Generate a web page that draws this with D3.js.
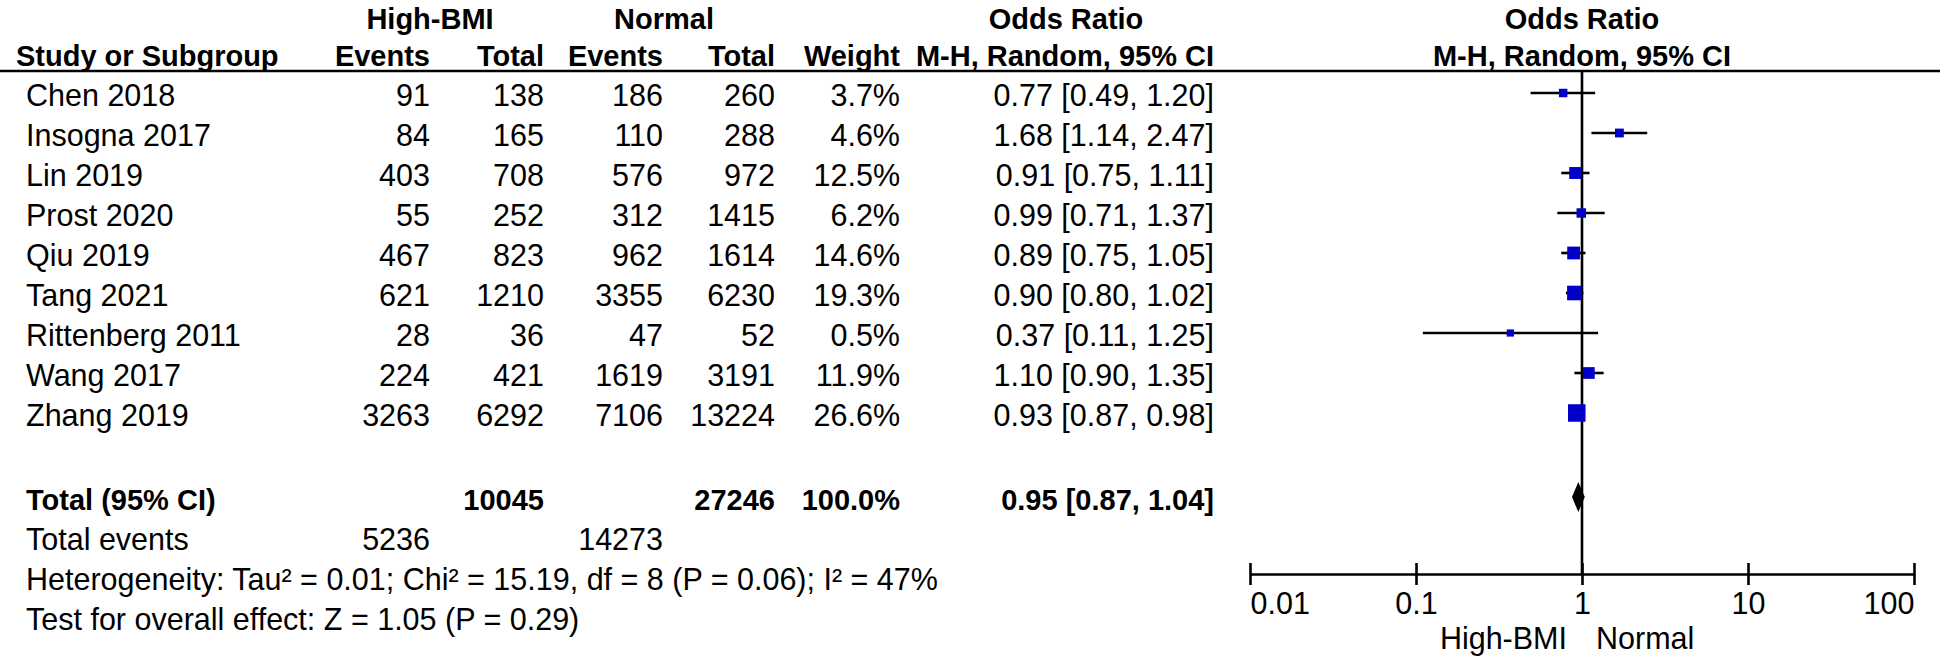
<!DOCTYPE html>
<html>
<head>
<meta charset="utf-8">
<script src="https://cdn.jsdelivr.net/npm/d3@7/dist/d3.min.js"></script>
<style>
  html, body { margin: 0; padding: 0; background: #fff; }
  svg { display: block; }
  text { font-family: "Liberation Sans", Arial, sans-serif; font-size: 30.5px; fill: #000; }
  .b { font-weight: bold; font-size: 29px; }
</style>
</head>
<body>
<svg id="chart" width="1943" height="658"></svg>
<script>
// ---- data ----
const studies   = ["Chen 2018", "Insogna 2017", "Lin 2019", "Prost 2020", "Qiu 2019", "Tang 2021", "Rittenberg 2011", "Wang 2017", "Zhang 2019"];
const hbEvents  = [91, 84, 403, 55, 467, 621, 28, 224, 3263];
const hbTotal   = [138, 165, 708, 252, 823, 1210, 36, 421, 6292];
const nEvents   = [186, 110, 576, 312, 962, 3355, 47, 1619, 7106];
const nTotal    = [260, 288, 972, 1415, 1614, 6230, 52, 3191, 13224];
const weights   = [3.7, 4.6, 12.5, 6.2, 14.6, 19.3, 0.5, 11.9, 26.6];
const orValues  = [0.77, 1.68, 0.91, 0.99, 0.89, 0.90, 0.37, 1.10, 0.93];
const ciLow     = [0.49, 1.14, 0.75, 0.71, 0.75, 0.80, 0.11, 0.90, 0.87];
const ciHigh    = [1.20, 2.47, 1.11, 1.37, 1.05, 1.02, 1.25, 1.35, 0.98];
const pooled    = { or: 0.95, lo: 0.87, hi: 1.04 };
const totalHb   = 10045, totalN = 27246, totalWeight = "100.0%";
const eventsHb  = 5236, eventsN = 14273;
const heterogeneityText = "Heterogeneity: Tau\u00B2 = 0.01; Chi\u00B2 = 15.19, df = 8 (P = 0.06); I\u00B2 = 47%";
const overallText = "Test for overall effect: Z = 1.05 (P = 0.29)";
const tickValues = [0.01, 0.1, 1, 10, 100];
const tickLabels = ["0.01", "0.1", "1", "10", "100"];

// ---- layout ----
const svg = d3.select("#chart");
const rowY = i => 93 + 40 * i;
const base = 13;               // text baseline offset from row centre
const totalY = rowY(10) + 4;
const axisY = 574;
const col = { name: 26, hbE: 430, hbT: 544, nE: 663, nT: 775, w: 900, ci: 1214 };

const x = d3.scaleLog().domain([0.01, 100]).range([1250, 1914]);
const size = d3.scaleLinear().domain([0, 26.6]).range([7, 17.5]);

const fmtCI = (o, l, h) => `${o.toFixed(2)} [${l.toFixed(2)}, ${h.toFixed(2)}]`;
const fmtW = w => w.toFixed(1) + "%";

function txt(str, xx, yy, anchor, cls) {
  return svg.append("text").attr("x", xx).attr("y", yy)
    .attr("text-anchor", anchor || "start").attr("class", cls || null).text(str);
}

// headers
txt("High-BMI", 430, 29, "middle", "b");
txt("Normal", 664, 29, "middle", "b");
txt("Odds Ratio", 1066, 29, "middle", "b");
txt("Odds Ratio", x(1), 29, "middle", "b");
txt("Study or Subgroup", 16, 66, "start", "b");
txt("Events", col.hbE, 66, "end", "b");
txt("Total", col.hbT, 66, "end", "b");
txt("Events", col.nE, 66, "end", "b");
txt("Total", col.nT, 66, "end", "b");
txt("Weight", col.w, 66, "end", "b");
txt("M-H, Random, 95% CI", col.ci, 66, "end", "b");
txt("M-H, Random, 95% CI", x(1), 66, "middle", "b");

// header rule
svg.append("line").attr("x1", 0).attr("x2", 1940).attr("y1", 71).attr("y2", 71)
  .attr("stroke", "#000").attr("stroke-width", 2.6);

// study rows
const rows = studies.map((s, i) => ({
  name: s, hbE: hbEvents[i], hbT: hbTotal[i], nE: nEvents[i], nT: nTotal[i],
  w: weights[i], or: orValues[i], lo: ciLow[i], hi: ciHigh[i], y: rowY(i)
}));

rows.forEach(r => {
  txt(r.name, col.name, r.y + base, "start");
  txt(r.hbE, col.hbE, r.y + base, "end");
  txt(r.hbT, col.hbT, r.y + base, "end");
  txt(r.nE, col.nE, r.y + base, "end");
  txt(r.nT, col.nT, r.y + base, "end");
  txt(fmtW(r.w), col.w, r.y + base, "end");
  txt(fmtCI(r.or, r.lo, r.hi), col.ci, r.y + base, "end");
});

// totals
txt("Total (95% CI)", col.name, totalY + base, "start", "b");
txt(totalHb, col.hbT, totalY + base, "end", "b");
txt(totalN, col.nT, totalY + base, "end", "b");
txt(totalWeight, col.w, totalY + base, "end", "b");
txt(fmtCI(pooled.or, pooled.lo, pooled.hi), col.ci, totalY + base, "end", "b");
txt("Total events", col.name, totalY + 40 + base, "start");
txt(eventsHb, col.hbE, totalY + 40 + base, "end");
txt(eventsN, col.nE, totalY + 40 + base, "end");
txt(heterogeneityText, col.name, totalY + 80 + base, "start");
txt(overallText, col.name, totalY + 120 + base, "start");

// vertical line of no effect
svg.append("line").attr("x1", x(1)).attr("x2", x(1)).attr("y1", 71).attr("y2", axisY)
  .attr("stroke", "#000").attr("stroke-width", 2.6);

const g = svg.append("g");
// CI lines
g.selectAll("line.ci").data(rows).enter().append("line").attr("class", "ci")
  .attr("x1", d => x(d.lo)).attr("x2", d => x(d.hi))
  .attr("y1", d => d.y).attr("y2", d => d.y)
  .attr("stroke", "#000").attr("stroke-width", 2.6);

// squares
g.selectAll("rect.pt").data(rows).enter().append("rect").attr("class", "pt")
  .attr("x", d => x(d.or) - size(d.w) / 2)
  .attr("y", d => d.y - size(d.w) / 2)
  .attr("width", d => size(d.w))
  .attr("height", d => size(d.w))
  .attr("fill", "#0000c8");

// diamond
const dh = 15;
svg.append("path")
  .attr("d", `M${x(pooled.lo)},${totalY} L${x(pooled.or)},${totalY - dh} L${x(pooled.hi)},${totalY} L${x(pooled.or)},${totalY + dh} Z`)
  .attr("fill", "#000");

// axis
const axis = d3.axisBottom(x).tickValues(tickValues)
  .tickFormat((d, i) => tickLabels[i]).tickSizeOuter(0).tickSizeInner(11);
const ag = svg.append("g").attr("transform", `translate(0,${axisY})`).call(axis);
ag.attr("font-size", null).attr("font-family", null);
ag.select(".domain").attr("stroke", "#000").attr("stroke-width", 2.6);
ag.selectAll(".tick line").attr("y1", -11).attr("y2", 11).attr("stroke", "#000").attr("stroke-width", 2.6);
ag.selectAll(".tick text")
  .attr("y", 40).attr("dy", null).attr("fill", "#000")
  .attr("text-anchor", (d, i) => i === 0 ? "start" : (i === tickValues.length - 1 ? "end" : "middle"));

// direction labels
txt("High-BMI", x(1) - 15, 649, "end");
txt("Normal", x(1) + 14, 649, "start");
</script>
</body>
</html>
